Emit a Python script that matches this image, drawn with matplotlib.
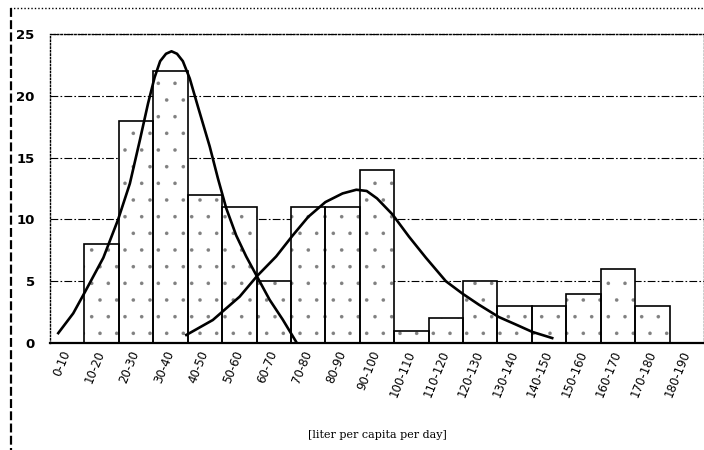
import numpy as np
import matplotlib
matplotlib.use("Agg")
import matplotlib.pyplot as plt
from matplotlib.lines import Line2D

# ---- data ----
categories = ['0-10', '10-20', '20-30', '30-40', '40-50', '50-60', '60-70',
              '70-80', '80-90', '90-100', '100-110', '110-120', '120-130',
              '130-140', '140-150', '150-160', '160-170', '170-180', '180-190']
counts = [0, 8, 18, 22, 12, 11, 5, 11, 11, 14, 1, 2, 5, 3, 3, 4, 6, 3, 0]

# fitted curve 1 (low-consumption group), liters vs frequency
curve1_x = [2.4, 6.75, 10.1, 15.5, 19.8, 23.2, 26.1, 28.5, 30.4, 32.0, 33.7, 35.3,
            36.9, 38.6, 40.6, 43.0, 46.4, 48.8, 51.2, 54.1, 57.0, 60.1, 63.8, 67.6, 71.5]
curve1_y = [0.8, 2.4, 4.1, 6.9, 10.0, 12.9, 16.4, 19.4, 21.5, 22.8, 23.4, 23.6,
            23.4, 22.8, 21.4, 19.1, 15.9, 13.3, 10.9, 8.7, 7.0, 5.4, 3.5, 1.9, 0.1]

# fitted curve 2 (high-consumption group)
curve2_x = [39.6, 47.3, 55.1, 60.1, 65.7, 70.5, 75.0, 80.0, 85.0, 89.0, 92.0,
            95.0, 99.5, 104.3, 109.2, 115.0, 119.8, 124.6, 130.4, 135.3, 140.1, 145.9]
curve2_y = [0.65, 1.86, 3.75, 5.4, 7.0, 8.7, 10.2, 11.4, 12.1, 12.4, 12.3,
            11.7, 10.4, 8.6, 6.9, 5.0, 4.0, 3.1, 2.1, 1.5, 0.9, 0.4]

yticks = [0, 5, 10, 15, 20, 25]
xlabel = '[liter per capita per day]'

plt.rcParams['hatch.linewidth'] = 0.15

# ---- figure ----
W, H = 704, 450
fig = plt.figure(figsize=(W / 100, H / 100), dpi=100)
fig.patch.set_facecolor('white')

left, right, top, bottom = 50, 704, 34, 343
ax = fig.add_axes([left / W, 1 - bottom / H, (right - left) / W, (bottom - top) / H])

centers = np.arange(len(categories)) * 10 + 5
# stipple fill (grey dots), then black outlines on top
ax.bar(centers, counts, width=10, color='white', edgecolor='#808080',
       linewidth=0, hatch='.', zorder=2)
ax.bar(centers, counts, width=10, fill=False, edgecolor='black',
       linewidth=1.2, zorder=3)

ax.plot(curve1_x, curve1_y, color='black', lw=1.9, zorder=4,
        solid_joinstyle='round')
ax.plot(curve2_x, curve2_y, color='black', lw=1.9, zorder=4,
        solid_joinstyle='round')

ax.set_xlim(0, 190)
ax.set_ylim(0, 25)
ax.set_yticks(yticks)
ax.set_yticklabels([str(v) for v in yticks], fontsize=9.5, fontweight='bold')
ax.set_xticks(centers)
ax.set_xticklabels(categories, fontsize=8.5, rotation=68, ha='right',
                   va='center', rotation_mode='anchor')
ax.tick_params(axis='y', length=0, pad=11)
ax.tick_params(axis='x', length=0, pad=6)

ax.yaxis.grid(True, color='black', lw=0.8, linestyle=(0, (7, 2, 1.5, 2)))
ax.set_axisbelow(True)

for s in ['left', 'top', 'right']:
    ax.spines[s].set_linestyle((0, (1, 1.5)))
    ax.spines[s].set_linewidth(1.0)
ax.spines['bottom'].set_linewidth(1.6)

fig.text((left + right) / 2 / W, 1 - 435 / H, xlabel, ha='center', va='center',
         fontsize=8, family='DejaVu Serif')

# outer frame of the scanned figure
fig.add_artist(Line2D([10 / W, 1], [1 - 8 / H, 1 - 8 / H], color='black',
                      lw=1.0, linestyle=(0, (1, 1.5))))
fig.add_artist(Line2D([11 / W, 11 / W], [1 - 8 / H, 0], color='black',
                      lw=1.6, linestyle=(0, (4, 1.5))))

fig.savefig('out.png', dpi=100)
